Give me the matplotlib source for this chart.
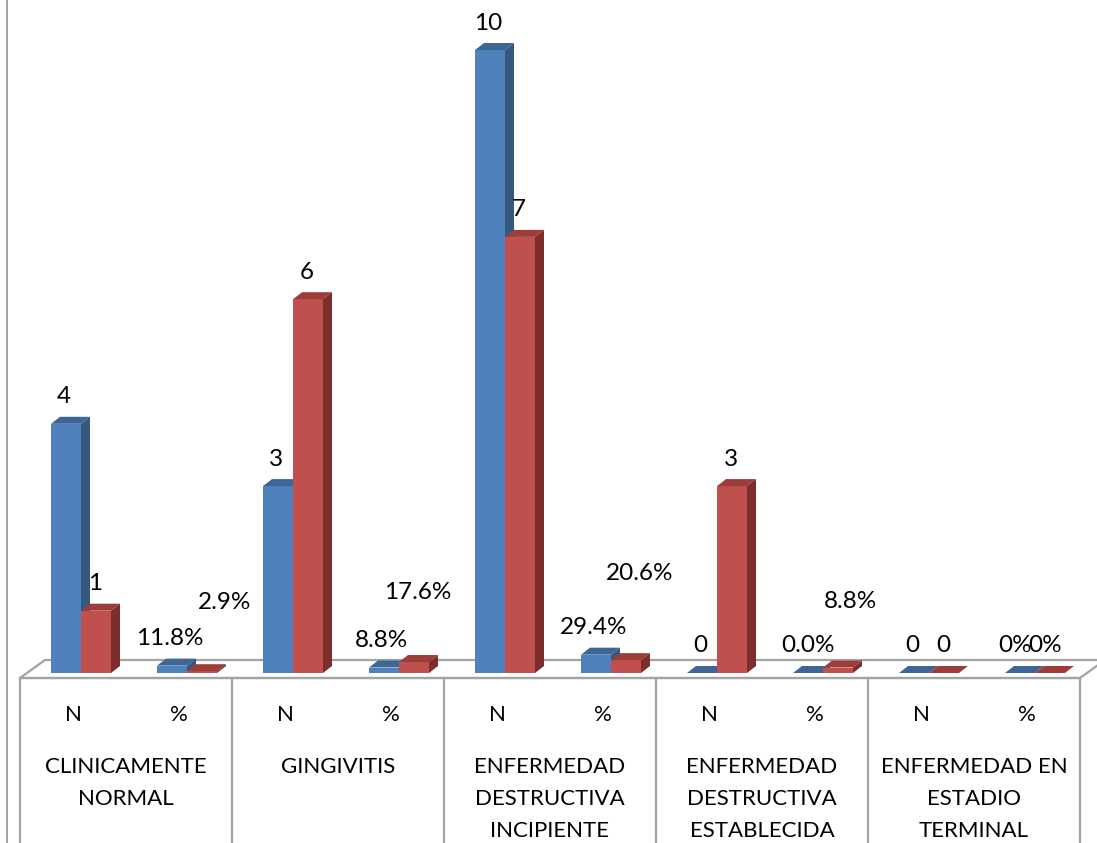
import matplotlib
matplotlib.use("Agg")
import matplotlib.pyplot as plt
from matplotlib.patches import Polygon

# ---- data -------------------------------------------------------------
categories = [
    "CLINICAMENTE\nNORMAL",
    "GINGIVITIS",
    "ENFERMEDAD\nDESTRUCTIVA\nINCIPIENTE",
    "ENFERMEDAD\nDESTRUCTIVA\nESTABLECIDA",
    "ENFERMEDAD EN\nESTADIO\nTERMINAL",
]
sub_labels = ["N", "%"]
n_blue = [4, 3, 10, 0, 0]
n_red = [1, 6, 7, 3, 0]
pct_blue = [0.118, 0.088, 0.294, 0.0, 0.0]
pct_red = [0.029, 0.176, 0.206, 0.088, 0.0]
pct_decimals = [1, 1, 1, 1, 0]

# ---- layout (pixels) ----------------------------------------------------
W, H = 1097, 843
X0_PX, SLOT_PX = 20, 106          # left edge of the table, width of one N/% slot
BASE_PX, UNIT_PX = 673, 62.3      # baseline (from top) and pixels per value unit
BAR_PX = 30
BLUE_OFF_PX, RED_OFF_PX = -7, 23  # bar centres relative to slot centre
DEPTH_DX, DEPTH_DY = 9, 7         # 3-D extrusion of the columns
LABEL_GAP_PX = 27

FONT = "Lato"
FS_VALUE = 17.5
FS_TABLE = 16
GRID = "#A3A3A3"

BLUE = ("#4F81BD", "#3D6697", "#35587F")   # front, top, side
RED = ("#C0504D", "#9E3C3A", "#7C2E2D")


def px_dx(p):
    return p / SLOT_PX


def px_dy(p):
    return p / UNIT_PX


fig = plt.figure(figsize=(W / 100, H / 100), dpi=100)
ax = fig.add_axes([0, 0, 1, 1])
ax.set_xlim(-X0_PX / SLOT_PX, (W - X0_PX) / SLOT_PX)
ax.set_ylim(-(H - BASE_PX) / UNIT_PX, BASE_PX / UNIT_PX)
ax.axis("off")

n_slots = 2 * len(categories)
floor_front = -px_dy(5)
floor_back = px_dy(13)
fdx = px_dx(25)

# floor
ax.add_patch(Polygon([(0, floor_front), (n_slots, floor_front),
                      (n_slots + fdx, floor_back), (fdx, floor_back)],
                     closed=True, facecolor="white", edgecolor=GRID,
                     linewidth=1.6, zorder=1))

# table grid below the floor
y_bottom = ax.get_ylim()[0]
for k in range(0, n_slots + 1, 2):
    ax.plot([k, k], [floor_front, y_bottom], color=GRID, lw=1.6, zorder=1)
ax.plot([0, n_slots], [floor_front, floor_front], color=GRID, lw=1.6, zorder=1)
# chart border on the left
ax.plot([px_dx(7 - X0_PX)] * 2, [y_bottom, ax.get_ylim()[1]], color=GRID,
        lw=1.4, zorder=1)

bw = px_dx(BAR_PX)
ddx, ddy = px_dx(DEPTH_DX), px_dy(DEPTH_DY)


def draw_column(xc, h, colors):
    front, top, side = colors
    x0, x1 = xc - bw / 2, xc + bw / 2
    ax.bar(xc, h, width=bw, color=front, linewidth=0, zorder=3)
    ax.add_patch(Polygon([(x0, h), (x1, h), (x1 + ddx, h + ddy), (x0 + ddx, h + ddy)],
                         closed=True, facecolor=top, edgecolor="none", zorder=3))
    ax.add_patch(Polygon([(x1, 0), (x1 + ddx, ddy), (x1 + ddx, h + ddy), (x1, h)],
                         closed=True, facecolor=side, edgecolor="none", zorder=3))


def value_label(xc, h, text, shift=(0, 0)):
    ax.text(xc + px_dx(shift[0]), h + px_dy(LABEL_GAP_PX + shift[1]), text,
            ha="center", va="center", fontsize=FS_VALUE, family=FONT,
            color="black", zorder=5)


# manually moved labels of the red percentage columns (pixels: right, up)
red_pct_shift = [(23, 42), (4, 43), (14, 60), (12, 39), (-5, 0)]
blue_pct_shift = [(-2, 0), (-2, 0), (-2, 0), (0, 0), (-5, 0)]

for i in range(len(categories)):
    slot_n = 2 * i + 0.5
    slot_p = 2 * i + 1.5
    bx_n, rx_n = slot_n + px_dx(BLUE_OFF_PX), slot_n + px_dx(RED_OFF_PX)
    bx_p, rx_p = slot_p + px_dx(BLUE_OFF_PX), slot_p + px_dx(RED_OFF_PX)

    draw_column(bx_n, n_blue[i], BLUE)
    draw_column(rx_n, n_red[i], RED)
    draw_column(bx_p, pct_blue[i], BLUE)
    draw_column(rx_p, pct_red[i], RED)

    value_label(bx_n, n_blue[i], f"{n_blue[i]}", (-2, 0))
    value_label(rx_n, n_red[i], f"{n_red[i]}", (-1, 0))
    d = pct_decimals[i]
    value_label(bx_p, pct_blue[i], f"{pct_blue[i] * 100:.{d}f}%", blue_pct_shift[i])
    value_label(rx_p, pct_red[i], f"{pct_red[i] * 100:.{d}f}%", red_pct_shift[i])

    # table text
    for j, s in enumerate(sub_labels):
        ax.text(2 * i + 0.5 + j, -px_dy(715 - BASE_PX), s, ha="center",
                va="center", fontsize=FS_TABLE, family=FONT, color="black")
    for k, line in enumerate(categories[i].split("\n")):
        ax.text(2 * i + 1, -px_dy(767 + 32 * k - BASE_PX), line, ha="center",
                va="center", fontsize=FS_TABLE, family=FONT, color="black")

fig.savefig("out.png", dpi=100, facecolor="white")
